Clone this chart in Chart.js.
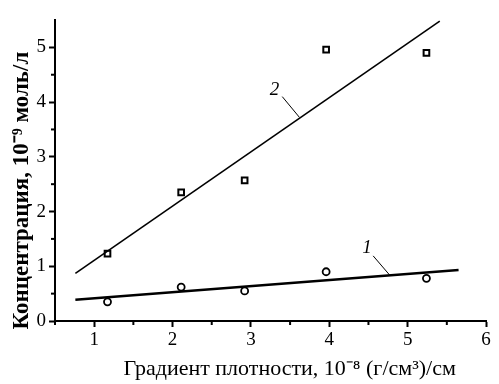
<!DOCTYPE html>
<html><head><meta charset="utf-8">
<script src="https://cdn.jsdelivr.net/npm/chart.js@4.4.1/dist/chart.umd.min.js"></script>
<style>html,body{margin:0;padding:0;background:#fff}canvas{display:block}</style>
</head><body>
<canvas id="c" width="499" height="384"></canvas>
<script>
const gradX = [1.17, 2.11, 2.92, 3.96, 5.24];
const conc2 = [1.23, 2.35, 2.57, 4.96, 4.90];
const conc1 = [0.35, 0.62, 0.55, 0.90, 0.78];
const fit1X = [0.76, 5.65];
const fit1Y = [0.39, 0.93];
const fit2X = [0.76, 5.41];
const fit2Y = [0.87, 5.48];
const lead1X = [4.56, 4.77];
const lead1Y = [1.19, 0.84];
const lead2X = [3.40, 3.62];
const lead2Y = [4.10, 3.72];
const curveLabels = [{text:'1', x:4.48, y:1.34}, {text:'2', x:3.30, y:4.23}];
const xTicks = [1,2,3,4,5,6];
const yTicks = [0,1,2,3,4,5];
const xTitle = 'Градиент плотности, 10⁻⁸ (г/см³)/см';
const yTitle = 'Концентрация, 10⁻⁹ моль/л';

const pts = (xs, ys) => xs.map((x,i)=>({x, y: ys[i]}));
const FONT = '"Liberation Serif", "Times New Roman", serif';
const NB = '\u00A0'.repeat(7);

const minorTicks = {
  id: 'minorTicks',
  afterDraw(chart) {
    const ctx = chart.ctx, xs = chart.scales.x, ys = chart.scales.y;
    ctx.save();
    ctx.strokeStyle = '#000'; ctx.lineWidth = 2;
    for (let v = 0.5; v < 6; v += 1) {
      if (v < xs.min) continue;
      const p = xs.getPixelForValue(v);
      ctx.beginPath(); ctx.moveTo(p, xs.top); ctx.lineTo(p, xs.top + 4); ctx.stroke();
    }
    for (let v = 0.5; v < 5.5; v += 1) {
      const p = ys.getPixelForValue(v);
      ctx.beginPath(); ctx.moveTo(ys.right, p); ctx.lineTo(ys.right - 4, p); ctx.stroke();
    }
    ctx.font = 'italic 19px ' + FONT;
    ctx.fillStyle = '#000'; ctx.textAlign = 'center'; ctx.textBaseline = 'middle';
    curveLabels.forEach(l => ctx.fillText(l.text, xs.getPixelForValue(l.x), ys.getPixelForValue(l.y)));
    ctx.restore();
  }
};

new Chart(document.getElementById('c'), {
  type: 'scatter',
  data: {
    datasets: [
      {data: pts(fit2X, fit2Y), showLine: true, borderColor:'#000', borderWidth:1.6, pointRadius:0},
      {data: pts(fit1X, fit1Y), showLine: true, borderColor:'#000', borderWidth:2.5, pointRadius:0},
      {data: pts(lead2X, lead2Y), showLine: true, borderColor:'#000', borderWidth:1, pointRadius:0},
      {data: pts(lead1X, lead1Y), showLine: true, borderColor:'#000', borderWidth:1, pointRadius:0},
      {data: pts(gradX, conc2), pointStyle:'rect', pointRadius:4, borderColor:'#000', borderWidth:2, backgroundColor:'#fff'},
      {data: pts(gradX, conc1), pointStyle:'circle', pointRadius:3.5, borderColor:'#000', borderWidth:1.8, backgroundColor:'#fff'}
    ]
  },
  options: {
    responsive: false, animation: false,
    layout: {padding: {top: 20, right: 13, left: 0, bottom: 0}},
    plugins: {legend: {display:false}, tooltip: {enabled:false}},
    scales: {
      x: {
        type: 'linear', min: 0.5, max: 6,
        afterBuildTicks: s => { s.ticks = xTicks.map(v => ({value: v})); },
        afterFit: s => { s.height = 63; },
        border: {color:'#000', width:2},
        grid: {drawOnChartArea:false, tickLength:6, tickColor:'#000', tickWidth:2},
        ticks: {color:'#000', font:{family:FONT, size:19}, padding:2, maxRotation:0},
        title: {display:true, text:NB + xTitle, color:'#000', font:{family:FONT, size:22}, padding:{top:0, bottom:2}}
      },
      y: {
        type: 'linear', min: 0, max: 5.5,
        afterBuildTicks: s => { s.ticks = yTicks.map(v => ({value: v})); },
        afterFit: s => { s.width = 55; },
        border: {color:'#000', width:2},
        grid: {drawOnChartArea:false, tickLength:6, tickColor:'#000', tickWidth:2},
        ticks: {color:'#000', font:{family:FONT, size:19}, padding:3},
        title: {display:true, text:yTitle + NB, color:'#000', font:{family:FONT, size:23, weight:'bold'}, padding:{top:8, bottom:0}}
      }
    }
  },
  plugins: [minorTicks]
});
</script>
</body></html>
